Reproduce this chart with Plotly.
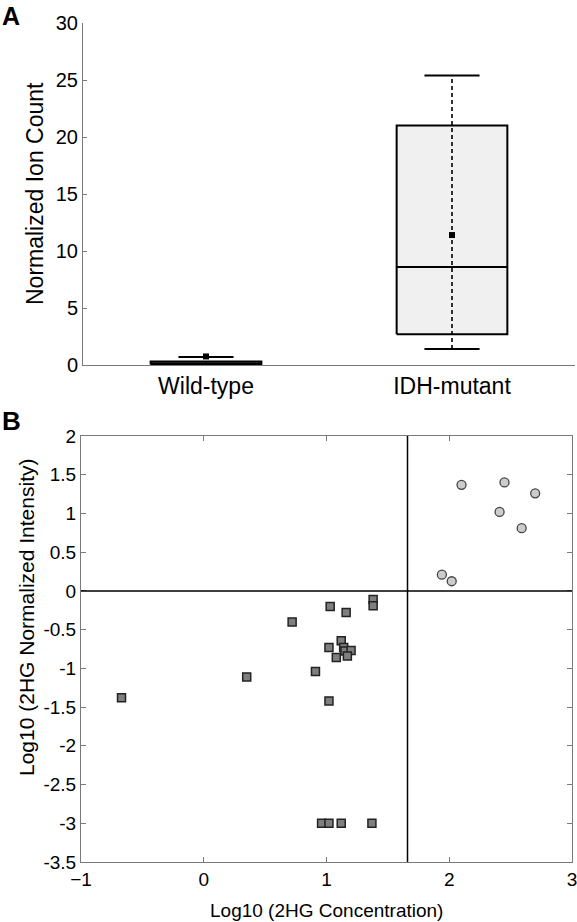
import plotly.graph_objects as go

# ---------------- Panel A data (box summary statistics) ----------------
groups = ["Wild-type", "IDH-mutant"]
q1 = [0.05, 2.7]
median = [0.15, 8.6]
q3 = [0.3, 21.0]
lower_whisker = [0.0, 1.4]
upper_whisker = [0.7, 25.4]
means = [0.75, 11.4]

# ---------------- Panel B data ----------------
wt_conc = [-0.67, 0.35, 0.72, 0.91, 1.03, 1.02, 1.02, 1.16, 1.12, 1.14, 1.15, 1.20, 1.08, 1.17,
           1.38, 1.38, 0.96, 1.02, 1.12, 1.37]
wt_int = [-1.38, -1.11, -0.40, -1.04, -0.20, -0.73, -1.42, -0.28, -0.645, -0.73, -0.775, -0.77, -0.86, -0.84,
          -0.11, -0.19, -3.0, -3.0, -3.0, -3.0]
mut_conc = [2.10, 2.45, 2.70, 2.41, 2.59, 1.94, 2.02]
mut_int = [1.37, 1.40, 1.26, 1.02, 0.81, 0.21, 0.125]
conc_threshold = 1.66
int_threshold = 0.0

W, H = 577, 922
FONT = "Liberation Sans, Arial, Helvetica, sans-serif"
AXCOL = "#7a7a7a"

fig = go.Figure()

box_half = 0.225
cap_half = 0.112
for i, g in enumerate(groups):
    c = i + 1
    # box body
    fig.add_trace(go.Scatter(
        x=[c - box_half, c + box_half, c + box_half, c - box_half, c - box_half],
        y=[q1[i], q1[i], q3[i], q3[i], q1[i]],
        mode="lines", fill="toself", fillcolor="#f0f0f0",
        line=dict(color="black", width=2), xaxis="x", yaxis="y", showlegend=False, hoverinfo="skip"))
    # median
    fig.add_trace(go.Scatter(
        x=[c - box_half, c + box_half], y=[median[i], median[i]], mode="lines",
        line=dict(color="black", width=2), xaxis="x", yaxis="y", showlegend=False))
    # dashed whisker
    fig.add_trace(go.Scatter(
        x=[c, c], y=[lower_whisker[i], upper_whisker[i]], mode="lines",
        line=dict(color="black", width=1.6, dash="4px,3px"), xaxis="x", yaxis="y", showlegend=False))
    # caps
    for v in (lower_whisker[i], upper_whisker[i]):
        fig.add_trace(go.Scatter(
            x=[c - cap_half, c + cap_half], y=[v, v], mode="lines",
            line=dict(color="black", width=2), xaxis="x", yaxis="y", showlegend=False))
    # mean
    fig.add_trace(go.Scatter(
        x=[c], y=[means[i]], mode="markers",
        marker=dict(symbol="square", size=6, color="black"), xaxis="x", yaxis="y", showlegend=False))

# Panel B scatter
fig.add_trace(go.Scatter(
    x=wt_conc, y=wt_int, mode="markers",
    marker=dict(symbol="square", size=8, color="#7f7f7f", line=dict(color="#222222", width=1.5)),
    xaxis="x2", yaxis="y2", showlegend=False))
fig.add_trace(go.Scatter(
    x=mut_conc, y=mut_int, mode="markers",
    marker=dict(symbol="circle", size=9, color="#cccccc", line=dict(color="#444444", width=1.3)),
    xaxis="x2", yaxis="y2", showlegend=False))

fig.add_shape(type="line", xref="x2", yref="y2 domain", x0=conc_threshold, x1=conc_threshold, y0=0, y1=1,
              line=dict(color="black", width=1.5))
fig.add_shape(type="line", xref="x2 domain", yref="y2", x0=0, x1=1, y0=int_threshold, y1=int_threshold,
              line=dict(color="black", width=1.5))

tickfont = dict(family=FONT, size=19, color="black")

fig.update_layout(
    width=W, height=H,
    margin=dict(l=0, r=0, t=0, b=0, autoexpand=False),
    paper_bgcolor="white", plot_bgcolor="white",
    font=dict(family=FONT, color="black"),
    xaxis=dict(domain=[83 / W, 575 / W], anchor="y", range=[0.5, 2.5],
               tickvals=[1, 2], ticktext=groups, tickfont=dict(family=FONT, size=23, color="black"),
               showline=True, linecolor=AXCOL, linewidth=1, ticks="", showgrid=False, zeroline=False,
               automargin=False, ticklabeloverflow="allow"),
    yaxis=dict(domain=[1 - 365 / H, 1 - 23 / H], anchor="x", range=[0, 30],
               tickvals=[0, 5, 10, 15, 20, 25, 30], tickfont=dict(family=FONT, size=20, color="black"),
               showline=True, linecolor=AXCOL, linewidth=1, ticks="inside", ticklen=4, tickcolor=AXCOL,
               showgrid=False, zeroline=False, automargin=False, ticklabeloverflow="allow"),
    xaxis2=dict(domain=[81 / W, 572 / W], anchor="y2", range=[-1, 3],
                tickvals=[-1, 0, 1, 2, 3], tickfont=tickfont,
                showline=True, mirror="ticks", linecolor=AXCOL, linewidth=1,
                ticks="inside", ticklen=5, tickcolor=AXCOL, showgrid=False, zeroline=False,
                automargin=False, ticklabeloverflow="allow"),
    yaxis2=dict(domain=[1 - 862 / H, 1 - 436 / H], anchor="x2", range=[-3.5, 2],
                tickvals=[-3.5, -3, -2.5, -2, -1.5, -1, -0.5, 0, 0.5, 1, 1.5, 2],
                ticktext=["-3.5", "-3", "-2.5", "-2", "-1.5", "-1", "-0.5", "0", "0.5", "1", "1.5", "2"],
                tickfont=tickfont,
                showline=True, mirror="ticks", linecolor=AXCOL, linewidth=1,
                ticks="inside", ticklen=5, tickcolor=AXCOL, showgrid=False, zeroline=False,
                automargin=False, ticklabeloverflow="allow"),
)

ann = [
    dict(text="<b>A</b>", x=0 / W, y=1 - 0 / H, xanchor="left", yanchor="top", font=dict(size=25)),
    dict(text="<b>B</b>", x=0 / W, y=1 - 404 / H, xanchor="left", yanchor="top", font=dict(size=26)),
    dict(text="Normalized Ion Count", x=35 / W, y=1 - 194 / H, textangle=-90, xanchor="center",
         yanchor="middle", font=dict(size=23)),
    dict(text="Log10 (2HG Normalized Intensity)", x=26 / W, y=1 - 618 / H, textangle=-90, xanchor="center",
         yanchor="middle", font=dict(size=21)),
    dict(text="Log10 (2HG Concentration)", x=326 / W, y=1 - 910 / H, xanchor="center", yanchor="middle",
         font=dict(size=19)),
]
for a in ann:
    a.update(xref="paper", yref="paper", showarrow=False)
    a["font"] = dict(family=FONT, color="black", **a["font"])
fig.update_layout(annotations=ann)

fig.write_html(
    "out.html",
    config={"displayModeBar": False, "staticPlot": True},
    post_script="document.body.style.margin='0';document.body.style.padding='0';"
                "document.documentElement.style.overflow='hidden';",
)
